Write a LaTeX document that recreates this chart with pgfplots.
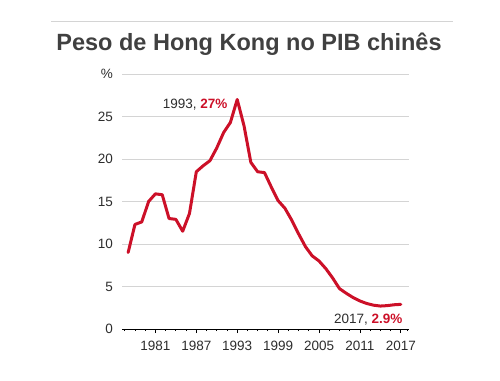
\documentclass[border=0pt]{standalone}
\usepackage{pgfplots}
\pgfplotsset{compat=1.18}
\usepackage{pgfplotstable}
\usepackage{fontspec}
\setmainfont{Liberation Sans}
\definecolor{hkred}{RGB}{204,16,40}
\definecolor{titlegray}{RGB}{64,64,64}
\definecolor{txtgray}{RGB}{45,45,45}
\definecolor{gridgray}{RGB}{212,212,212}
\pgfplotstableread{
year val
1977 9.0
1978 12.3
1979 12.6
1980 15.0
1981 15.9
1982 15.8
1983 13.0
1984 12.9
1985 11.5
1986 13.6
1987 18.5
1988 19.2
1989 19.8
1990 21.3
1991 23.1
1992 24.3
1993 27.0
1994 23.9
1995 19.6
1996 18.5
1997 18.4
1998 16.7
1999 15.1
2000 14.2
2001 12.8
2002 11.2
2003 9.7
2004 8.6
2005 8.0
2006 7.1
2007 6.0
2008 4.75
2009 4.2
2010 3.7
2011 3.3
2012 3.0
2013 2.8
2014 2.7
2015 2.75
2016 2.85
2017 2.9
}\hkdata
\begin{document}
\begin{tikzpicture}[x=1bp,y=1bp]
\path[use as bounding box] (0,0) rectangle (500,380);
\draw[gridgray, line width=1bp] (51,358) -- (453,358);
\node[font=\fontsize{23.5bp}{26bp}\selectfont\bfseries, text=titlegray, anchor=base, inner sep=0pt] at (249,329.5) {Peso de Hong Kong no PIB chinês};
\begin{axis}[
  at={(122bp,51bp)}, anchor=south west,
  scale only axis, width=287bp, height=255bp,
  xmin=1976.1, xmax=2018.2, ymin=0, ymax=30,
  axis x line*=bottom, axis y line*=left,
  y axis line style={draw=none},
  x axis line style={black, line width=0.9bp},
  ytick={0,5,10,15,20,25,30},
  yticklabels={0,5,10,15,20,25,\%},
  xtick={1981,1987,1993,1999,2005,2011,2017},
  xticklabels={1981,1987,1993,1999,2005,2011,2017},
  minor xtick={1976.5,1978,1979.5,1982.5,1984,1985.5,1988.5,1990,1991.5,1994.5,1996,1997.5,2000.5,2002,2003.5,2006.5,2008,2009.5,2012.5,2014,2015.5,2018},
  tick align=outside,
  major tick length=4bp, minor tick length=2.2bp,
  xtick style={black, line width=0.8bp},
  ytick style={draw=none},
  ymajorgrids, grid style={gridgray, line width=0.9bp},
  /pgf/number format/assume math mode=true,
  tick label style={font=\fontsize{13.5bp}{15bp}\selectfont, text=txtgray},
  yticklabel style={anchor=east, inner sep=0pt, xshift=-5bp},
  xticklabel style={anchor=north, inner sep=0pt, yshift=-7.5bp},
  clip=false,
]
\addplot[hkred, line width=3bp, line join=round, line cap=round] table[x=year, y=val] {\hkdata};
\node[anchor=base east, inner sep=0pt, font=\fontsize{13.5bp}{15bp}\selectfont, text=txtgray] at (axis cs:1991.6,25.9) {1993, \textcolor{hkred}{\bfseries 27\%}};
\node[anchor=base east, inner sep=0pt, font=\fontsize{13.5bp}{15bp}\selectfont, text=txtgray] at (axis cs:2017.27,0.6) {2017, \textcolor{hkred}{\bfseries 2.9\%}};
\end{axis}
\end{tikzpicture}
\end{document}
